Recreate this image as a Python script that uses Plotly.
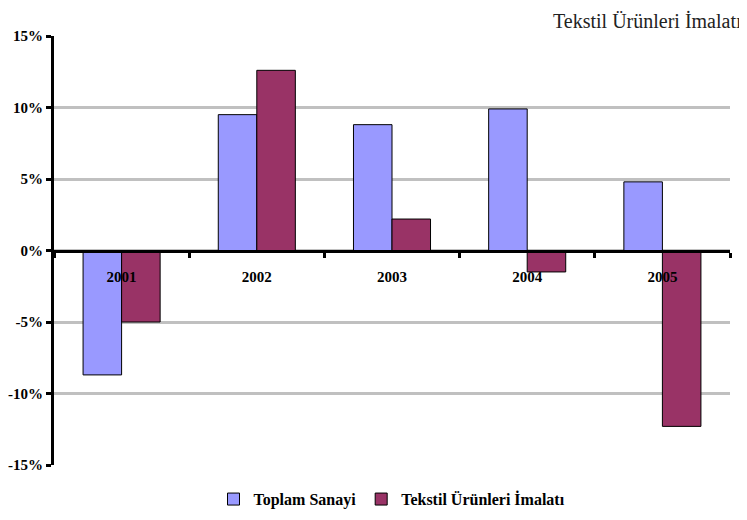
import plotly.graph_objects as go

years = ["2001", "2002", "2003", "2004", "2005"]
toplam_sanayi = [-8.7, 9.5, 8.8, 9.9, 4.8]
tekstil = [-5.0, 12.6, 2.2, -1.5, -12.3]
y_ticks = [-15, -10, -5, 0, 5, 10, 15]
y_labels = [f"{v}%" for v in y_ticks]

serif = "Liberation Serif, Times New Roman, serif"

fig = go.Figure()
fig.add_trace(
    go.Bar(
        x=years,
        y=toplam_sanayi,
        name="Toplam Sanayi",
        marker=dict(color="#9999FF", line=dict(color="#000000", width=1)),
    )
)
fig.add_trace(
    go.Bar(
        x=years,
        y=tekstil,
        name="Tekstil Ürünleri İmalatı",
        marker=dict(color="#993366", line=dict(color="#000000", width=1)),
    )
)

# the page body has an 8px margin, so the figure is a bit smaller than the window
fig.update_layout(
    width=739,
    height=512,
    margin=dict(l=46, r=17, t=28, b=55, autoexpand=False),
    plot_bgcolor="white",
    paper_bgcolor="white",
    barmode="group",
    bargap=0.43,
    bargroupgap=0,
    showlegend=True,
    legend=dict(
        orientation="h",
        x=0.5,
        xanchor="center",
        y=-0.04,
        yanchor="top",
        font=dict(family=serif, size=16, color="black", weight="bold"),
        itemwidth=30,
    ),
    annotations=[
        dict(
            text="Tekstil Ürünleri İmalatı",
            xref="paper",
            yref="paper",
            x=1.02,
            y=1.005,
            xanchor="right",
            yanchor="bottom",
            showarrow=False,
            font=dict(family=serif, size=20, color="#222222"),
        )
    ],
)

fig.update_xaxes(
    anchor="free",
    position=0.5,
    showline=True,
    linecolor="black",
    linewidth=3,
    ticks="outside",
    tickson="boundaries",
    ticklen=5,
    tickwidth=3,
    tickcolor="black",
    showgrid=False,
    tickfont=dict(family=serif, size=15, color="black", weight="bold"),
    ticklabelstandoff=11,
)

fig.update_yaxes(
    range=[-15, 15],
    tickvals=y_ticks,
    ticktext=y_labels,
    showline=True,
    linecolor="black",
    linewidth=3,
    ticks="outside",
    ticklen=5,
    tickwidth=3,
    tickcolor="black",
    showgrid=True,
    gridcolor="#C0C0C0",
    gridwidth=3,
    zeroline=False,
    tickfont=dict(family=serif, size=15, color="black", weight="bold"),
)

fig.write_html("out.html")
